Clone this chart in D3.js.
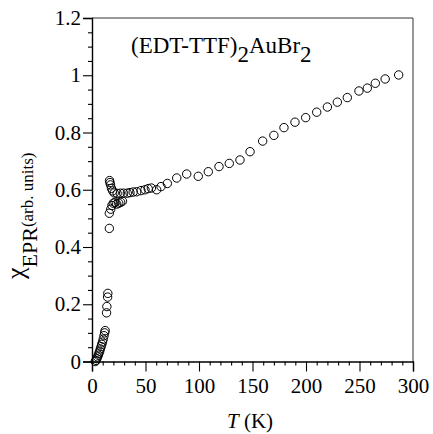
<!DOCTYPE html>
<html><head><meta charset="utf-8">
<script src="https://cdn.jsdelivr.net/npm/d3@7"></script>
<style>body{margin:0;background:#fff}svg{display:block}</style>
</head><body>
<script>
// Data: temperature (K) and EPR susceptibility (arb. units)
const temps = [3.0,3.8,4.5,5.2,5.9,6.5,7.2,7.8,8.5,9.1,9.8,10.5,11.2,11.8,12.3,13.6,13.9,14.6,14.8,
  16.2,16.2,17.5,18.6,19.9,21.5,23.1,25.0,26.8,28.5,
  16.4,16.8,17.3,18.2,19.3,20.8,23.5,26.5,29.5,33.0,35.5,38.5,41.8,45.8,49.5,52.5,55.5,60.4,64.5,70.4,79.2,88.5,99.3,108.7,118.7,128.3,138.3,147.7,159.5,170.0,179.4,189.7,199.7,210.0,220.0,229.3,238.6,249.5,257.3,264.8,274.0,286.6];
const chi = [0.000,0.004,0.010,0.016,0.022,0.029,0.036,0.044,0.052,0.060,0.068,0.078,0.090,0.100,0.108,0.170,0.192,0.225,0.238,
  0.465,0.518,0.532,0.545,0.553,0.556,0.550,0.553,0.556,0.560,
  0.632,0.625,0.617,0.605,0.596,0.589,0.587,0.588,0.588,0.588,0.590,0.592,0.593,0.597,0.600,0.604,0.606,0.600,0.611,0.622,0.641,0.655,0.647,0.663,0.681,0.692,0.704,0.733,0.770,0.790,0.817,0.836,0.852,0.871,0.889,0.906,0.922,0.945,0.955,0.972,0.987,1.001];
const xTicks = [0,50,100,150,200,250,300];
const yTicks = [0,0.2,0.4,0.6,0.8,1,1.2];

const W = 433, H = 434;
const m = {left:92, right:20, top:18, bottom:72.5};
const svg = d3.select("body").append("svg").attr("width",W).attr("height",H);
const x = d3.scaleLinear().domain([0,300]).range([m.left, W-m.right]);
const y = d3.scaleLinear().domain([0,1.2]).range([H-m.bottom, m.top]);
const FAM = "Liberation Serif";

svg.append("path").attr("d",`M${x(0)},${y(1.2)}H${x(300)}V${y(0)}`)
  .attr("fill","none").attr("stroke","#333").attr("stroke-width",1);

const xMinor = d3.range(0,301,10).filter(v=>v%50!==0);
const yMinor = d3.range(0,1.201,0.05).filter(v=>Math.abs(v*5-Math.round(v*5))>1e-6);
const gx = svg.append("g").attr("transform",`translate(0,${y(0)})`)
  .call(d3.axisBottom(x).tickValues(xTicks).tickSize(10).tickPadding(7).tickFormat(d3.format("d")));
gx.append("g").call(d3.axisBottom(x).tickValues(xMinor).tickSize(4).tickFormat(""))
  .select(".domain").remove();
const gy = svg.append("g").attr("transform",`translate(${x(0)},0)`)
  .call(d3.axisLeft(y).tickValues(yTicks).tickSize(9).tickPadding(2).tickFormat(d=>d3.format("")(d)));
gy.append("g").call(d3.axisLeft(y).tickValues(yMinor).tickSize(4).tickFormat(""))
  .select(".domain").remove();
svg.selectAll("g").attr("font-family",null).attr("font-size",null);
svg.selectAll(".domain").attr("stroke","#000").attr("stroke-width",1.4);
svg.selectAll(".tick line").attr("stroke","#000").attr("stroke-width",1.1);
svg.selectAll(".tick text").attr("font-family",FAM).attr("font-size",21).attr("fill","#000");

svg.append("g").selectAll("circle").data(temps.map((t,i)=>[t,chi[i]])).join("circle")
  .attr("cx",d=>x(d[0])).attr("cy",d=>y(d[1])).attr("r",4.2)
  .attr("fill","none").attr("stroke","#000").attr("stroke-width",1);

const t = svg.append("text").attr("x",131).attr("y",53).attr("font-family",FAM).attr("font-size",23);
t.append("tspan").text("(EDT-TTF)");
t.append("tspan").attr("dy",9).text("2");
t.append("tspan").attr("dy",-9).text("AuBr");
t.append("tspan").attr("dy",9).text("2");

const xl = svg.append("text").attr("x",250).attr("y",428).attr("text-anchor","middle")
  .attr("font-family",FAM).attr("font-size",21);
xl.append("tspan").attr("font-style","italic").text("T");
xl.append("tspan").text(" (K)");

const yl = svg.append("text").attr("transform","translate(24,279) rotate(-90)")
  .attr("font-family",FAM).attr("font-size",26);
yl.append("tspan").text("χ");
yl.append("tspan").attr("font-size",22).attr("dy",13).text("EPR");
yl.append("tspan").attr("font-size",17).attr("dy",-4).text("(arb. units)");
</script>
</body></html>
